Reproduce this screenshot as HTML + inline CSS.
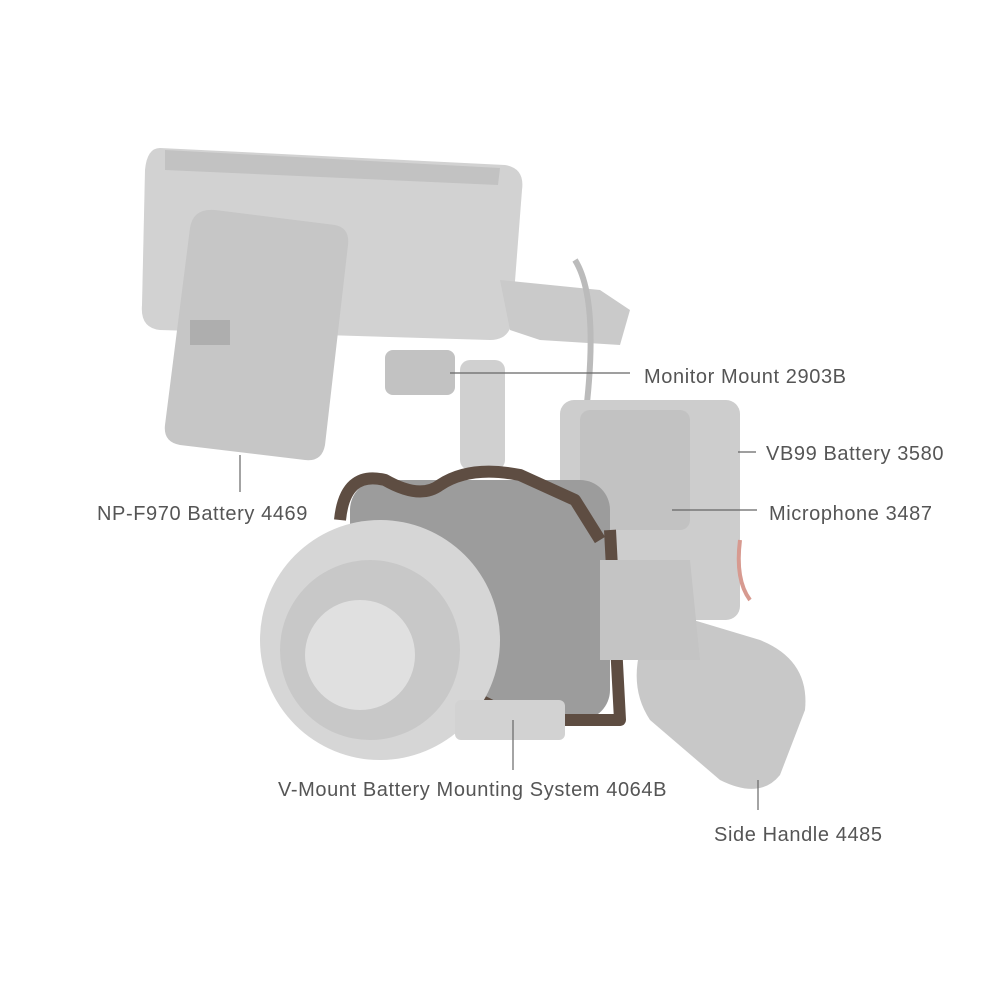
<!DOCTYPE html>
<html><head><meta charset="utf-8"><style>
html,body{margin:0;padding:0;background:#fff;}
svg{display:block}
text{font-family:"Liberation Sans",sans-serif;font-size:20px;letter-spacing:0.6px;fill:#555;}
</style></head><body>
<svg width="1000" height="1000" viewBox="0 0 1000 1000">
<path d="M160 148 L505 165 Q525 168 522 190 L512 320 Q510 340 490 340 L160 330 Q140 328 142 305 L145 170 Q147 148 160 148Z" fill="#d2d2d2"/>
<path d="M165 150 L500 168 L498 185 L165 170Z" fill="#c2c2c2"/>
<path d="M215 210 L335 225 Q350 228 348 245 L325 445 Q322 462 305 460 L180 445 Q163 442 165 425 L190 228 Q193 208 215 210Z" fill="#c6c6c6"/>
<rect x="190" y="320" width="40" height="25" fill="#aeaeae"/>
<path d="M500 280 L600 290 L630 310 L620 345 L540 340 L510 330Z" fill="#cacaca"/>
<rect x="460" y="360" width="45" height="110" rx="10" fill="#d0d0d0"/>
<rect x="385" y="350" width="70" height="45" rx="8" fill="#c2c2c2"/>
<path d="M575 260 Q600 300 585 420" stroke="#bbb" stroke-width="6" fill="none"/>
<rect x="560" y="400" width="180" height="220" rx="14" fill="#cdcdcd"/>
<rect x="580" y="410" width="110" height="120" rx="10" fill="#c2c2c2"/>
<rect x="350" y="480" width="260" height="240" rx="30" fill="#9c9c9c"/>
<g fill="none" stroke="#5e4d42" stroke-width="12" stroke-linejoin="round">
<path d="M340 520 Q345 470 385 480 Q420 500 440 485 Q470 465 520 475 L575 500 L600 540"/>
<path d="M610 530 L620 720 L520 720 L480 700"/>
</g>
<circle cx="380" cy="640" r="120" fill="#d6d6d6"/>
<circle cx="370" cy="650" r="90" fill="#c8c8c8"/>
<circle cx="360" cy="655" r="55" fill="#e0e0e0"/>
<rect x="455" y="700" width="110" height="40" rx="6" fill="#d2d2d2"/>
<path d="M660 610 L760 640 Q810 660 805 710 L780 775 Q760 800 720 780 L650 720 Q630 690 640 650Z" fill="#c8c8c8"/>
<path d="M600 560 L690 560 L700 660 L600 660Z" fill="#c4c4c4"/>
<path d="M740 540 Q735 580 750 600" stroke="#d79a90" stroke-width="4" fill="none"/>
<g stroke="#666" stroke-width="1.2">
<line x1="450" y1="373" x2="630" y2="373"/>
<line x1="738" y1="452" x2="756" y2="452"/>
<line x1="672" y1="510" x2="757" y2="510"/>
<line x1="240" y1="455" x2="240" y2="492"/>
<line x1="513" y1="720" x2="513" y2="770"/>
<line x1="758" y1="780" x2="758" y2="810"/>
</g>
<text x="644" y="383">Monitor Mount 2903B</text>
<text x="766" y="460">VB99 Battery 3580</text>
<text x="769" y="520">Microphone 3487</text>
<text x="97" y="520">NP-F970 Battery 4469</text>
<text x="278" y="796">V-Mount Battery Mounting System 4064B</text>
<text x="714" y="841">Side Handle 4485</text>
</svg>
</body></html>
